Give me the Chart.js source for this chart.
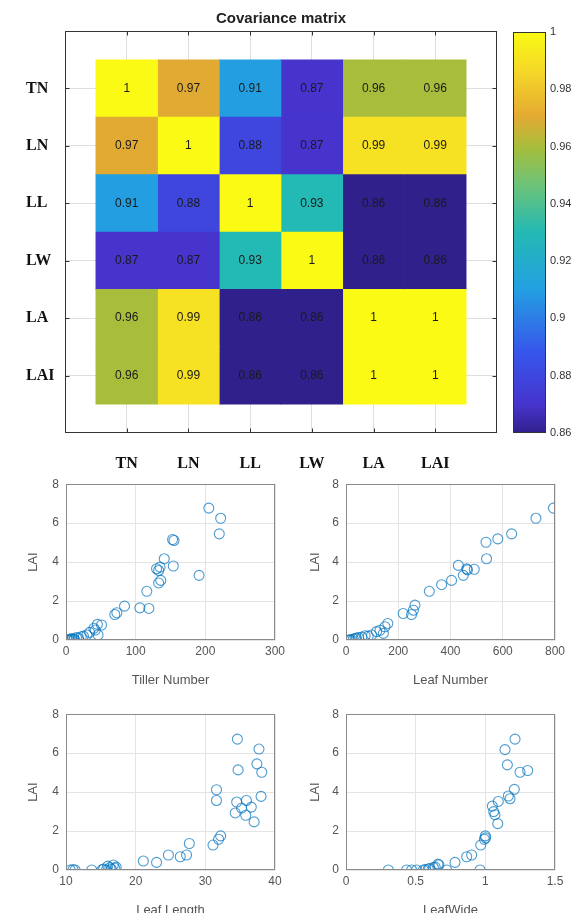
<!DOCTYPE html>
<html>
<head>
<meta charset="utf-8">
<script src="https://cdn.jsdelivr.net/npm/chart.js@4.4.1/dist/chart.umd.min.js"></script>
<style>
  html, body { margin: 0; padding: 0; background: #fff; width: 586px; height: 913px; overflow: hidden; }
  body { position: relative; }
  .box { position: absolute; }
</style>
</head>
<body>
<div class="box" style="left:0;top:0;width:500px;height:474px"><canvas id="heat"></canvas></div>
<div class="box" style="left:498px;top:0;width:88px;height:474px"><canvas id="cbar"></canvas></div>
<div class="box" style="left:0;top:470px;width:290px;height:222px"><canvas id="sc1"></canvas></div>
<div class="box" style="left:290px;top:470px;width:280px;height:222px"><canvas id="sc2"></canvas></div>
<div class="box" style="left:0;top:700px;width:290px;height:222px"><canvas id="sc3"></canvas></div>
<div class="box" style="left:290px;top:700px;width:280px;height:222px"><canvas id="sc4"></canvas></div>

<script>
// Данные матрицы
const covLabels = ['TN', 'LN', 'LL', 'LW', 'LA', 'LAI'];
const covValues = [
  [1, 0.97, 0.91, 0.87, 0.96, 0.96],
  [0.97, 1, 0.88, 0.87, 0.99, 0.99],
  [0.91, 0.88, 1, 0.93, 0.86, 0.86],
  [0.87, 0.87, 0.93, 1, 0.86, 0.86],
  [0.96, 0.99, 0.86, 0.86, 1, 1],
  [0.96, 0.99, 0.86, 0.86, 1, 1],
];
const colorbarTicks = [0.86, 0.88, 0.9, 0.92, 0.94, 0.96, 0.98, 1];

// Диаграммы рассеяния
const tillerX = [205, 222, 220, 155, 153, 154, 191, 141, 130, 133, 135, 133, 136, 116, 106, 119, 84, 70, 73, 51, 45, 42, 34, 46, 30, 22, 15, 11, 8, 5, 6, 9, 12, 18, 25, 40, 3];
const tillerLAI = [6.77, 6.25, 5.45, 5.11, 5.16, 3.8, 3.32, 4.17, 3.66, 3.57, 3.74, 2.93, 3.06, 2.5, 1.65, 1.62, 1.74, 1.31, 1.4, 0.77, 0.8, 0.51, 0.39, 0.26, 0.26, 0.17, 0.12, 0.05, 0.02, 0, 0.05, 0.08, 0.02, 0.1, 0.2, 0.6, 0];

const leafNumX = [794, 727, 634, 581, 536, 538, 491, 462, 465, 430, 449, 404, 366, 319, 264, 258, 251, 219, 160, 149, 143, 117, 98, 73, 48, 28, 15, 9, 20, 35, 60, 85, 130, 40];
const leafNumLAI = [6.77, 6.25, 5.45, 5.19, 5.02, 4.17, 3.63, 3.65, 3.6, 3.83, 3.32, 3.06, 2.84, 2.5, 1.79, 1.53, 1.31, 1.36, 0.85, 0.68, 0.34, 0.43, 0.26, 0.22, 0.12, 0.05, 0, 0, 0.02, 0.08, 0.15, 0.2, 0.5, 0.1];

const leafLenX = [34.6, 37.7, 37.4, 38.1, 34.7, 31.6, 31.6, 34.5, 35.9, 38.0, 35.2, 36.6, 34.3, 35.8, 37.0, 32.2, 31.9, 31.1, 27.7, 27.3, 26.4, 24.7, 23.0, 21.1, 17.0, 16.3, 15.8, 15.4, 13.7, 11.3, 10.6, 16.8, 16.0, 15.2, 17.2, 11.0, 16.5];
const leafLenLAI = [6.72, 6.21, 5.45, 5.02, 5.14, 4.12, 3.57, 3.49, 3.57, 3.78, 3.18, 3.23, 2.93, 2.81, 2.47, 1.75, 1.58, 1.28, 1.36, 0.77, 0.68, 0.77, 0.39, 0.46, 0.09, 0.12, 0, 0.05, 0, 0, 0, 0.26, 0.2, 0.02, 0.15, 0.02, 0.05];

const leafWideX = [1.213, 1.141, 1.158, 1.304, 1.249, 1.208, 1.165, 1.177, 1.093, 1.05, 1.069, 1.089, 1.002, 0.993, 0.967, 0.902, 0.866, 0.782, 0.962, 0.722, 0.667, 0.627, 0.591, 0.555, 0.507, 0.471, 0.435, 0.304, 0.66, 0.6, 0.57, 0.64, 1.0, 1.06];
const leafWideLAI = [6.72, 6.18, 5.4, 5.11, 5.02, 4.14, 3.8, 3.66, 3.52, 3.28, 2.84, 2.38, 1.65, 1.58, 1.28, 0.77, 0.68, 0.39, 0, 0, 0.26, 0.12, 0.05, 0, 0, 0, 0, 0, 0.3, 0.08, 0.02, 0.15, 1.75, 3.0];

// Цветовая карта (похожа на parula)
const parulaStops = [
  [0, [48, 32, 140]],
  [0.07, [70, 52, 205]],
  [0.2, [55, 85, 235]],
  [0.36, [35, 160, 225]],
  [0.5, [35, 185, 180]],
  [0.62, [110, 195, 120]],
  [0.71, [165, 190, 60]],
  [0.79, [228, 170, 50]],
  [0.9, [245, 215, 40]],
  [1, [250, 250, 20]],
];
const cMin = 0.86, cMax = 1;

function parula(v) {
  const t = Math.min(1, Math.max(0, (v - cMin) / (cMax - cMin)));
  for (let i = 1; i < parulaStops.length; i++) {
    const [t1, c1] = parulaStops[i];
    const [t0, c0] = parulaStops[i - 1];
    if (t <= t1) {
      const k = (t - t0) / (t1 - t0);
      const c = c0.map((a, n) => Math.round(a + (c1[n] - a) * k));
      return `rgb(${c[0]},${c[1]},${c[2]})`;
    }
  }
  return 'rgb(250,250,20)';
}

const fmt = (v) => String(+Number(v).toFixed(2));
const sansFont = '"Liberation Sans", Arial, sans-serif';

// Рамка вокруг области графика + внутренние засечки
const boxPlugin = {
  id: 'box',
  afterDraw(chart, args, opts) {
    const { ctx, chartArea: a } = chart;
    const l = Math.round(a.left) + 0.5, r = Math.round(a.right) - 0.5;
    const t = Math.round(a.top) + 0.5, b = Math.round(a.bottom) - 0.5;
    ctx.save();
    ctx.strokeStyle = opts.color || '#333';
    ctx.lineWidth = 1;
    ctx.strokeRect(l, t, r - l, b - t);
    const len = opts.tickLen || 0;
    if (len) {
      ctx.beginPath();
      const xs = chart.scales.x;
      const ys = chart.scales.y;
      if (xs && xs.options.display !== false) {
        xs.ticks.forEach((tk) => {
          const px = Math.round(xs.getPixelForValue(tk.value)) + 0.5;
          ctx.moveTo(px, b); ctx.lineTo(px, b - len);
          ctx.moveTo(px, t); ctx.lineTo(px, t + len);
        });
      }
      if (ys) {
        ys.ticks.forEach((tk) => {
          const py = Math.round(ys.getPixelForValue(tk.value)) + 0.5;
          ctx.moveTo(l, py); ctx.lineTo(l + len, py);
          ctx.moveTo(r, py); ctx.lineTo(r - len, py);
        });
      }
      ctx.stroke();
    }
    ctx.restore();
  },
};

// Подписи значений в ячейках
const cellTextPlugin = {
  id: 'cellText',
  afterDatasetsDraw(chart) {
    const { ctx, scales: { x, y } } = chart;
    ctx.save();
    ctx.font = `12px ${sansFont}`;
    ctx.fillStyle = '#1a1a1a';
    ctx.textAlign = 'center';
    ctx.textBaseline = 'middle';
    covValues.forEach((row, i) => {
      row.forEach((v, j) => {
        ctx.fillText(fmt(v), x.getPixelForValue(j), y.getPixelForValue(i));
      });
    });
    ctx.restore();
  },
};

const labelTicks = (scale) => {
  scale.ticks = covLabels.map((_, i) => ({ value: i }));
};
const catFont = { family: '"Liberation Serif", "Times New Roman", serif', size: 16, weight: 'bold' };

// Тепловая карта
new Chart(document.getElementById('heat'), {
  type: 'bar',
  data: {
    datasets: covLabels.map((col, j) => ({
      label: col,
      data: covLabels.map((row, i) => ({ x: [j - 0.5, j + 0.5], y: i })),
      backgroundColor: covValues.map((r) => parula(r[j])),
      borderWidth: 0,
      barPercentage: 1,
      categoryPercentage: 1,
      grouped: false,
    })),
  },
  options: {
    indexAxis: 'y',
    responsive: true,
    maintainAspectRatio: false,
    animation: false,
    layout: { padding: { left: 26, right: 3, top: 0, bottom: 0 } },
    plugins: {
      legend: { display: false },
      tooltip: { enabled: false },
      title: {
        display: true,
        text: 'Covariance matrix',
        fullSize: false,
        color: '#222',
        font: { family: sansFont, size: 15, weight: 'bold' },
        padding: { top: 10, bottom: 3 },
      },
      box: { color: '#333', tickLen: 4 },
    },
    scales: {
      x: {
        type: 'linear',
        min: -1,
        max: 6,
        offset: false,
        afterBuildTicks: labelTicks,
        afterFit: (s) => { s.height = 41; },
        ticks: {
          callback: (v) => covLabels[v],
          padding: 21,
          autoSkip: false,
          maxRotation: 0,
          color: '#111',
          font: catFont,
        },
        grid: { color: 'rgba(0,0,0,0.13)', drawTicks: false, offset: false },
        border: { display: false },
        z: 1,
      },
      y: {
        type: 'linear',
        min: -1,
        max: 6,
        reverse: true,
        offset: false,
        afterBuildTicks: labelTicks,
        afterFit: (s) => { s.width = 39; },
        ticks: {
          callback: (v) => covLabels[v],
          crossAlign: 'far',
          autoSkip: false,
          color: '#111',
          font: catFont,
        },
        grid: { color: 'rgba(0,0,0,0.13)', drawTicks: false, offset: false },
        border: { display: false },
        z: 1,
      },
    },
  },
  plugins: [boxPlugin, cellTextPlugin],
});

// Цветовая шкала
new Chart(document.getElementById('cbar'), {
  type: 'bar',
  data: {
    labels: [''],
    datasets: [{
      data: [[cMin, cMax]],
      borderWidth: 0,
      barPercentage: 1,
      categoryPercentage: 1,
      backgroundColor: (ctx) => {
        const a = ctx.chart.chartArea;
        if (!a) return 'rgba(0,0,0,0)';
        const g = ctx.chart.ctx.createLinearGradient(0, a.bottom, 0, a.top);
        parulaStops.forEach(([t, c]) => g.addColorStop(t, `rgb(${c[0]},${c[1]},${c[2]})`));
        return g;
      },
    }],
  },
  options: {
    responsive: true,
    maintainAspectRatio: false,
    animation: false,
    layout: { padding: { left: 15, right: 0, top: 32, bottom: 41 } },
    plugins: {
      legend: { display: false },
      tooltip: { enabled: false },
      box: { color: '#333' },
    },
    scales: {
      x: { display: false },
      y: {
        position: 'right',
        min: cMin,
        max: cMax,
        afterBuildTicks: (s) => { s.ticks = colorbarTicks.map((v) => ({ value: v })); },
        afterFit: (s) => { s.width = 40; },
        ticks: { callback: fmt, padding: 4, color: '#333', font: { family: sansFont, size: 11 } },
        grid: { display: false, drawTicks: false },
        border: { display: false },
      },
    },
  },
  plugins: [boxPlugin],
});

// Диаграммы LAI
function makeScatter(id, xVals, yVals, xMin, xMax, xStep, xTitle, padLeft, yWidth) {
  return new Chart(document.getElementById(id), {
    type: 'scatter',
    data: {
      datasets: [{
        data: xVals.map((x, i) => ({ x, y: yVals[i] })),
        pointRadius: 5,
        pointBorderWidth: 1.1,
        pointBorderColor: 'rgba(0,114,189,0.7)',
        pointBackgroundColor: 'rgba(0,0,0,0)',
      }],
    },
    options: {
      responsive: true,
      maintainAspectRatio: false,
      animation: false,
      layout: { padding: { left: padLeft, right: 15, top: 13, bottom: 0 } },
      plugins: {
        legend: { display: false },
        tooltip: { enabled: false },
        box: { color: '#8a8a8a' },
      },
      scales: {
        x: {
          type: 'linear',
          min: xMin,
          max: xMax,
          afterFit: (s) => { s.height = 52; },
          ticks: { stepSize: xStep, callback: fmt, padding: 4, maxRotation: 0, color: '#555', font: { family: sansFont, size: 12 } },
          title: { display: true, text: xTitle, color: '#555', font: { family: sansFont, size: 13 }, padding: { top: 2, bottom: 4 } },
          grid: { color: '#e4e4e4', drawTicks: false },
          border: { display: false },
        },
        y: {
          type: 'linear',
          min: 0,
          max: 8,
          afterFit: (s) => { s.width = yWidth; },
          ticks: { stepSize: 2, callback: fmt, padding: 7, color: '#555', font: { family: sansFont, size: 12 } },
          title: { display: true, text: 'LAI', color: '#555', font: { family: sansFont, size: 13 }, padding: { top: 4, bottom: 2 } },
          grid: { color: '#e4e4e4', drawTicks: false },
          border: { display: false },
        },
      },
    },
    plugins: [boxPlugin],
  });
}

makeScatter('sc1', tillerX, tillerLAI, 0, 300, 100, 'Tiller Number', 22, 44);
makeScatter('sc2', leafNumX, leafNumLAI, 0, 800, 200, 'Leaf Number', 14, 42);
makeScatter('sc3', leafLenX, leafLenLAI, 10, 40, 10, 'Leaf Length', 22, 44);
makeScatter('sc4', leafWideX, leafWideLAI, 0, 1.5, 0.5, 'LeafWide', 14, 42);
</script>
</body>
</html>
